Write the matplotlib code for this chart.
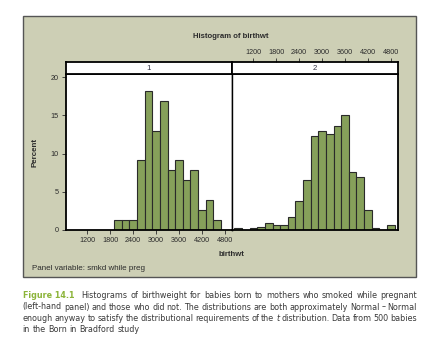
import matplotlib.pyplot as plt
from matplotlib.patches import Rectangle

# bin midpoints (g) and percent of babies in each bin
mids_smk = [2000, 2200, 2400, 2600, 2800, 3000, 3200, 3400, 3600, 3800, 4000, 4200, 4400, 4600]
pct_smk = [1.3, 1.3, 1.3, 9.1, 18.2, 13.0, 16.9, 7.8, 9.1, 6.5, 7.8, 2.6, 3.9, 1.3]

mids_non = [800, 1000, 1200, 1400, 1600, 1800, 2000, 2200, 2400, 2600, 2800,
            3000, 3200, 3400, 3600, 3800, 4000, 4200, 4400, 4600, 4800]
pct_non = [0.2, 0.0, 0.2, 0.4, 0.9, 0.7, 0.7, 1.7, 3.8, 6.6, 12.3,
           12.9, 12.5, 13.6, 15.1, 7.6, 6.9, 2.6, 0.2, 0.0, 0.7]

xticks = [1200, 1800, 2400, 3000, 3600, 4200, 4800]
yticks = [0, 5, 10, 15, 20]
panel_labels = ["1", "2"]

plt.rcParams['font.family'] = ['Liberation Sans', 'DejaVu Sans']

W, H = 430, 355
fig = plt.figure(figsize=(W / 100, H / 100), dpi=100)


def fx(x):
    return x / W


def fy(y):
    return 1 - y / H


bg = Rectangle((fx(23.3), fy(276.7)), fx(416) - fx(23.3), fy(16) - fy(276.7),
               transform=fig.transFigure, facecolor="#cdcfb5", edgecolor="#555555",
               lw=1, zorder=-5)
fig.patches.append(bg)

bar_col = "#86a05a"
txt_col = "#2b2b2b"
xlim = (630, 4980)
ylim = (0, 20.4)

lefts = [65.7, 231.7]
pw = 166
data = [(mids_smk, pct_smk), (mids_non, pct_non)]

for i in range(2):
    ax = fig.add_axes([fx(lefts[i]), fy(230), pw / W, (230 - 74) / H])
    mids, pct = data[i]
    ax.bar(mids, pct, width=200, color=bar_col, edgecolor="#2a2a2a", lw=0.8)
    ax.set_xlim(*xlim)
    ax.set_ylim(*ylim)
    for s in ax.spines.values():
        s.set_linewidth(1.3)
        s.set_color("black")
    ax.tick_params(length=3, width=0.6, labelsize=5.2, colors=txt_col, pad=2)
    ax.set_xticks(xticks)
    ax.set_yticks(yticks)
    if i == 0:
        ax.set_ylabel("Percent", fontsize=5.8, fontweight="bold", color=txt_col, labelpad=9)
        ax.spines["right"].set_linewidth(1.0)
    else:
        ax.set_yticks([])
        ax.set_xticklabels([])
        ax.tick_params(axis="x", length=0)
        ax.spines["left"].set_linewidth(1.0)

    # strip on top
    st = fig.add_axes([fx(lefts[i]), fy(74), pw / W, (74 - 62.3) / H])
    st.set_xlim(*xlim)
    st.set_yticks([])
    st.text(0.5, 0.45, panel_labels[i], transform=st.transAxes, ha="center", va="center",
            fontsize=5.6, color="#333344")
    for s in st.spines.values():
        s.set_linewidth(1.3)
        s.set_color("black")
    if i == 1:
        st.xaxis.tick_top()
        st.set_xticks(xticks)
        st.tick_params(axis="x", length=3, width=0.6, labelsize=5.2, colors=txt_col, pad=1.5)
    else:
        st.set_xticks([])

fig.text(fx(231), fy(37), "Histogram of birthwt", ha="center", va="center",
         fontsize=5.6, fontweight="bold", color=txt_col)
fig.text(fx(231), fy(254), "birthwt", ha="center", va="center",
         fontsize=5.6, fontweight="bold", color=txt_col)
fig.text(fx(32), fy(268), "Panel variable: smkd while preg", ha="left", va="center",
         fontsize=5.8, color=txt_col)

# caption, justified word by word
cap_font = ["Liberation Sans Narrow", "DejaVu Sans"]
cap_size = 5.8
cap_col = "#3a3a3a"
green = "#8cb43a"
lines = [
    [("Figure 14.1", {"color": green, "fontweight": "bold"})] +
    [(w, {}) for w in "Histograms of birthweight for babies born to mothers who smoked while pregnant".split()],
    [(w, {}) for w in "(left-hand panel) and those who did not. The distributions are both approximately Normal \u2013 Normal".split()],
    [(w, {}) for w in "enough anyway to satisfy the distributional requirements of the".split()] +
    [("t", {"style": "italic"})] +
    [(w, {}) for w in "distribution. Data from 500 babies".split()],
    [(w, {}) for w in "in the Born in Bradford study".split()],
]
x0, x1 = 22.7, 417
baselines = [298, 309.5, 321, 332.5]
renderer = fig.canvas.get_renderer()
space = 2.6
for li, words in enumerate(lines):
    objs = []
    for w, kw in words:
        t = fig.text(0, fy(baselines[li]), w, fontsize=cap_size, family=cap_font,
                     color=kw.get("color", cap_col), fontweight=kw.get("fontweight", "normal"),
                     style=kw.get("style", "normal"), va="baseline", ha="left")
        objs.append(t)
    widths = [o.get_window_extent(renderer).width for o in objs]
    extra = 4 if li == 0 else 0
    if li < len(lines) - 1:
        gap = (x1 - x0 - sum(widths) - extra) / (len(objs) - 1)
    else:
        gap = space
    x = x0
    for k, o in enumerate(objs):
        o.set_x(fx(x))
        x += widths[k] + gap
        if k == 0:
            x += extra

fig.savefig("out.png", dpi=100)
